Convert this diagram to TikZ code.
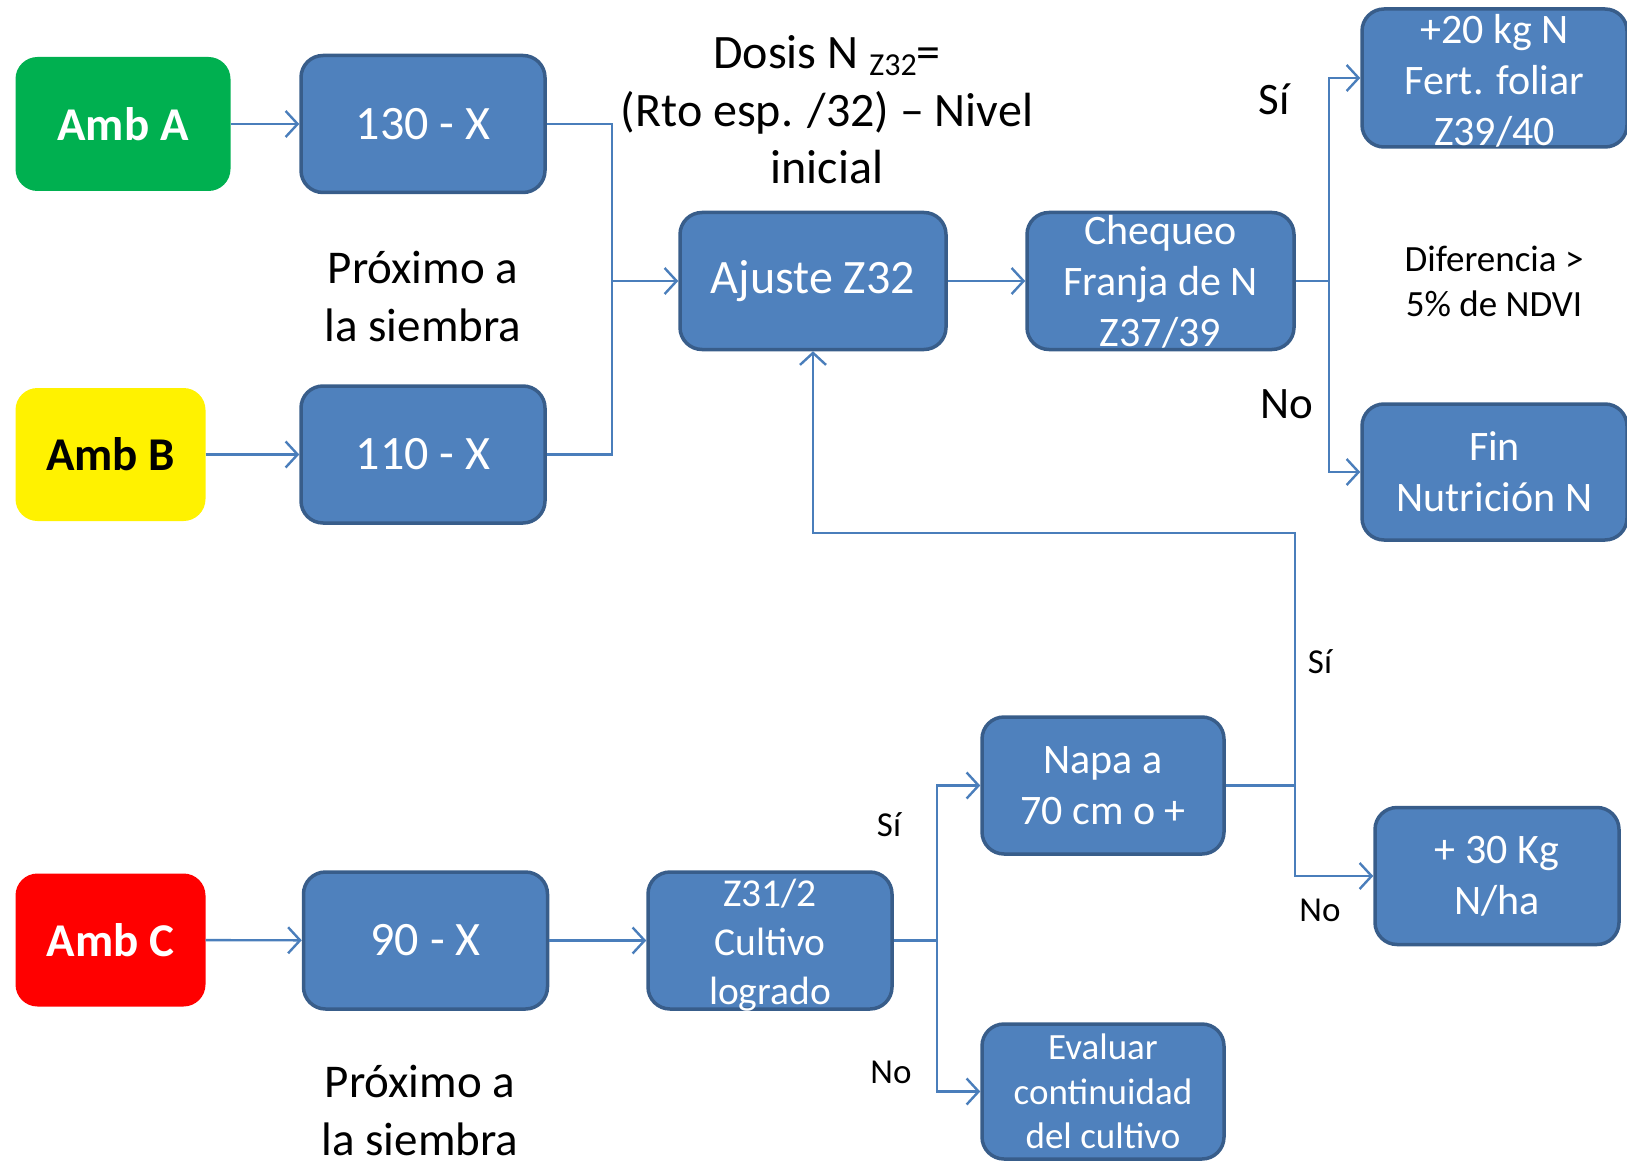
\documentclass[tikz,border=0pt]{standalone}
\usepackage{fontspec}
\setmainfont{Carlito}
\usepackage{tikz}
\usetikzlibrary{arrows.meta}
\definecolor{boxfill}{HTML}{4F81BD}
\definecolor{boxline}{HTML}{385D8A}
\definecolor{linkblue}{HTML}{4A7EBB}
\definecolor{ambgreen}{HTML}{00B050}
\newcommand{\fsz}[2]{\fontsize{#1}{#2}\selectfont}

\begin{document}
\begin{tikzpicture}[x=1pt,y=-1pt,
  amb/.style={rounded corners=22pt, minimum width=190pt, minimum height=133pt, inner sep=0pt, font=\bfseries\fsz{47}{50}},
  blbox/.style={draw=boxline, fill=boxfill, line width=3.5pt, rounded corners=22pt, minimum width=244pt, minimum height=137pt, inner sep=0pt, text=white, align=center},
  boxtxt/.style={text=white, align=center, inner sep=0pt},
  plain/.style={align=center, inner sep=0pt},
  link/.style={draw=linkblue, line width=2.4pt},
  >={Straight Barb[length=12pt,width=26pt]}]
\useasboundingbox (0,0) rectangle (1627,1169);

% ambientes y dosis
\node[amb, fill=ambgreen, text=white, minimum width=215pt, minimum height=134pt] (ambA) at (123,124) {Amb A};
\node[blbox, font=\fsz{48}{50}] (d130) at (423,124) {130 - X};
\node[amb, fill=yellow, text=black] (ambB) at (110.5,454.5) {Amb B};
\node[blbox, font=\fsz{48}{50}] (d110) at (423,454.5) {110 - X};
\node[amb, fill=red, text=white] (ambC) at (110.5,940) {Amb C};
\node[blbox, font=\fsz{48}{50}] (d90) at (425.5,940.5) {90 - X};

% ajuste y chequeo
\node[blbox, minimum width=266pt, font=\fsz{48}{50}] (ajuste) at (813,281) {Ajuste Z32};
\node[blbox, minimum width=267pt, label={[boxtxt, font=\fsz{42}{51}, yshift=-1pt]center:{Chequeo\\Franja de N\\Z37/39}}] (cheq) at (1160.5,281) {};
\node[blbox, minimum width=265pt, minimum height=138pt, label={[boxtxt, font=\fsz{42}{51}, yshift=-3pt]center:{+20 kg N\\Fert. foliar\\Z39/40}}] (fert) at (1494.5,78) {};
\node[blbox, minimum width=265pt, minimum height=136pt, font=\fsz{42}{51}] (fin) at (1494.5,472) {Fin\\Nutrición N};

% rama Amb C
\node[blbox, label={[boxtxt, font=\fsz{39.5}{49}, yshift=-5pt]center:{Z31/2\\Cultivo\\logrado}}] (z31) at (770,940.5) {};
\node[blbox, minimum width=242pt, font=\fsz{42}{51}] (napa) at (1103,785.5) {Napa a\\70 cm o +};
\node[blbox, minimum width=242pt, minimum height=135pt, label={[boxtxt, font=\fsz{37}{44.6}]center:{Evaluar\\continuidad\\del cultivo}}] (evaluar) at (1103,1091.5) {};
\node[blbox, font=\fsz{42}{51}] (kg30) at (1497,876) {+ 30 Kg\\N/ha};

% textos sueltos
\node[plain, font=\fsz{48}{57.6}] (dosis) at (827,110) {Dosis N \raisebox{-7pt}{\fsz{32}{32}Z32}=\\(Rto esp. /32) \textendash{} Nivel\\inicial};
\node[plain, font=\fsz{47}{58}] (prox1) at (423,297) {Próximo a\\la siembra};
\node[plain, font=\fsz{47}{58}] (prox2) at (420,1110) {Próximo a\\la siembra};
\node[plain, font=\fsz{37}{44.6}] (dif) at (1494,281.5) {Diferencia >\\5\% de NDVI};
\node[plain, font=\fsz{45}{50}] (si1) at (1274,99) {Sí};
\node[plain, font=\fsz{45}{50}] (no1) at (1287,404) {No};
\node[plain, font=\fsz{35}{40}] (si2) at (1320,662) {Sí};
\node[plain, font=\fsz{35}{40}] (no2) at (1320,910) {No};
\node[plain, font=\fsz{35}{40}] (si3) at (889,825) {Sí};
\node[plain, font=\fsz{35}{40}] (no3) at (891,1072) {No};

% conectores
\coordinate (jAB) at (612,281);
\coordinate (jChq) at (1329,281);
\coordinate (jZ) at (937,940.5);
\coordinate (jN) at (1295,785.5);
\coordinate (lp) at (1295,533);

\draw[link, ->] (ambA) -- (d130);
\draw[link, ->] (ambB) -- (d110);
\draw[link, ->] (ambC) -- (d90);
\draw[link, ->] (d90) -- (z31);
\draw[link] (d130.east) -| (jAB) |- (d110.east);
\draw[link, ->] (jAB) -- (ajuste);
\draw[link, ->] (ajuste) -- (cheq);
\draw[link] (cheq.east) -- (jChq);
\draw[link, ->] (jChq) |- (fert.west);
\draw[link, ->] (jChq) |- (fin.west);
\draw[link] (z31.east) -- (jZ);
\draw[link, ->] (jZ) |- (napa.west);
\draw[link, ->] (jZ) |- (evaluar.west);
\draw[link] (napa.east) -- (jN);
\draw[link, ->] (jN) |- (kg30.west);
\draw[link, ->] (jN) -- (lp) -| (ajuste.south);
\end{tikzpicture}
\end{document}
